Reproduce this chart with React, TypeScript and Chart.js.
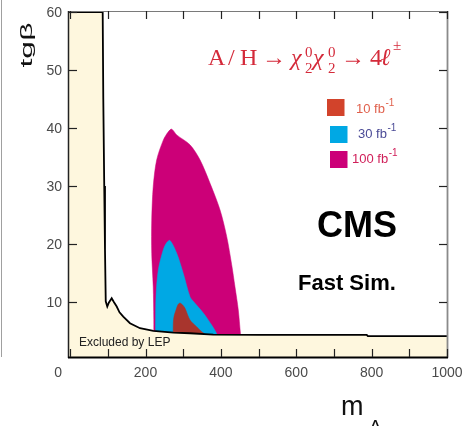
import React, { useEffect, useRef } from 'react';
import { Chart, registerables } from 'chart.js';

Chart.register(...registerables);

// ---- Data (m_A in GeV, tan beta) ----
// LEP excluded region boundary
const lepMass = [-3, 86.4, 88, 90.5, 92.5, 94.5, 98.6, 103, 110.3, 116, 123.6, 131, 141, 158.8, 185.4, 220.7, 273.7, 318, 380, 500, 787, 790, 1000];
const lepTanb = [60, 60, 45, 30, 19, 10.1, 9.2, 9.9, 10.64, 10.0, 9.2, 8.2, 7.46, 6.33, 5.47, 5.0, 4.71, 4.6, 4.36, 4.31, 4.31, 4.09, 4.09];

// 5 sigma discovery contour, 100 fb^-1
const mass100 = [222, 222, 220.5, 216.5, 216.5, 220.5, 229.7, 247.2, 260, 269.5, 282.8, 318, 344.6, 371, 397.6, 415.4, 428.7, 437.4, 446.2, 452, 454, 222];
const tanb100 = [3.5, 7, 12.6, 18.4, 24.1, 29.9, 34.5, 37.9, 39.3, 39.8, 38.8, 37.1, 34.5, 30.5, 25.9, 21.3, 16.4, 12.6, 8.6, 4.5, 3.5, 3.5];

// 30 fb^-1
const mass30 = [226, 226.5, 227.8, 233.9, 247.2, 256, 265, 282.8, 300.3, 318, 326.8, 353.3, 375.6, 388.9, 392, 226];
const tanb30 = [3.5, 5.5, 10.9, 15.5, 19.0, 20.2, 20.6, 18.4, 14.9, 10.9, 10.1, 8.1, 6.0, 4.5, 3.5, 3.5];

// 10 fb^-1
const mass10 = [273.7, 273.7, 276, 280.9, 286, 291.5, 298, 304.8, 318, 335.8, 350, 358, 360, 273.7];
const tanb10 = [3.5, 6.3, 7.6, 8.6, 9.5, 9.8, 9.5, 8.9, 6.9, 5.7, 4.8, 4.4, 3.5, 3.5];

// Axes
const xTickValues = [0, 100, 200, 300, 400, 500, 600, 700, 800, 900, 1000];
const xLabelValues = [0, 200, 400, 600, 800, 1000];
const yTickValues = [10, 20, 30, 40, 50, 60];

// Legend
const legendNames = ['10 fb', '30 fb', '100 fb'];
const legendSup = '-1';

// Colours
const CREAM = '#fef7de';
const MAGENTA = '#cc0078';
const CYAN = '#00a8e4';
const DARKRED = '#a8352d';
const legendSquareColors = ['#d2432b', CYAN, MAGENTA];
const legendTextColors = ['#e0604c', '#4a4a96', '#d0205a'];
const TITLE_RED = '#d42a3a';

const toPts = (xs: number[], ys: number[]) => xs.map((x, i) => ({ x, y: ys[i] }));

const decorPlugin = {
  id: 'decor',
  afterDatasetsDraw(chart: any) {
    const { ctx, chartArea } = chart;
    const { left, right, top, bottom } = chartArea;
    const xs = chart.scales.x;
    const ys = chart.scales.y;
    const seg = (x1: number, y1: number, x2: number, y2: number) => {
      ctx.beginPath();
      ctx.moveTo(x1, y1);
      ctx.lineTo(x2, y2);
      ctx.stroke();
    };
    ctx.save();
    // frame
    ctx.strokeStyle = '#7a7a7a';
    ctx.lineWidth = 1;
    seg(left, top - 0.5, right, top - 0.5);
    ctx.strokeStyle = '#8a8a8a';
    ctx.lineWidth = 1.8;
    seg(right + 0.5, top - 1, right + 0.5, bottom + 1);
    ctx.strokeStyle = '#222';
    ctx.lineWidth = 1.5;
    seg(left - 0.5, top - 1, left - 0.5, bottom + 1);
    ctx.strokeStyle = '#000';
    ctx.lineWidth = 2;
    seg(left - 1, bottom + 0.5, right + 1, bottom + 0.5);

    // ticks (inward)
    ctx.strokeStyle = '#222';
    ctx.lineWidth = 1.2;
    const TL = 8;
    for (const v of xTickValues) {
      const px = Math.round(xs.getPixelForValue(v)) + 0.5;
      seg(px, bottom, px, bottom - TL);
      seg(px, top - 1, px, top - 1 + TL);
    }
    for (const v of yTickValues) {
      const py = Math.round(ys.getPixelForValue(v)) + 0.5;
      seg(left, py, left + TL, py);
      seg(right, py, right - TL, py);
    }

    // tick labels
    ctx.fillStyle = '#4a4a4a';
    ctx.font = '14px "Liberation Sans", Arial, sans-serif';
    ctx.textBaseline = 'alphabetic';
    ctx.textAlign = 'center';
    for (const v of xLabelValues) {
      let px = xs.getPixelForValue(v);
      if (v === 0) px -= 12;
      ctx.fillText(String(v), px, bottom + 19.5);
    }
    ctx.textAlign = 'right';
    for (const v of yTickValues) {
      const py = ys.getPixelForValue(v);
      ctx.fillText(String(v), left - 7, py + 5);
    }

    // Excluded by LEP
    ctx.textAlign = 'left';
    ctx.fillStyle = '#222';
    ctx.font = '12px "Liberation Sans", Arial, sans-serif';
    ctx.fillText('Excluded by LEP', left + 10, bottom - 11);

    // Title  A/H -> chi chi -> 4 l
    ctx.fillStyle = TITLE_RED;
    const serif = '"Liberation Serif", "Times New Roman", serif';
    ctx.font = `24px ${serif}`;
    ctx.fillText('A', 208, 65);
    ctx.fillText('/', 228, 65);
    ctx.fillText('H', 240, 65);
    ctx.fillText('\u2192', 262, 65);
    ctx.font = `italic 24px ${serif}`;
    ctx.fillText('\u03c7', 291, 65);
    ctx.fillText('\u03c7', 313, 65);
    ctx.font = `15px ${serif}`;
    ctx.fillText('2', 305, 73);
    ctx.fillText('0', 305, 57);
    ctx.fillText('2', 328, 73);
    ctx.fillText('0', 328, 57);
    ctx.font = `24px ${serif}`;
    ctx.fillText('\u2192', 341, 65);
    ctx.fillText('4', 370, 65);
    ctx.font = `bold italic 24px "DejaVu Serif", ${serif}`;
    ctx.fillText('\u2113', 381, 65);
    ctx.font = `15px ${serif}`;
    ctx.fillText('\u00b1', 393, 50);

    // Legend
    const sqX = [327, 330, 330];
    const sqY = [99, 126, 151];
    const txX = [356, 358, 352];
    const txY = [113, 138, 163];
    for (let i = 0; i < legendNames.length; i++) {
      ctx.fillStyle = legendSquareColors[i];
      ctx.fillRect(sqX[i], sqY[i], 17.5, 17);
      ctx.fillStyle = legendTextColors[i];
      ctx.font = '13px "Liberation Sans", Arial, sans-serif';
      ctx.fillText(legendNames[i], txX[i], txY[i]);
      const w = ctx.measureText(legendNames[i]).width;
      ctx.font = '10px "Liberation Sans", Arial, sans-serif';
      ctx.fillText(legendSup, txX[i] + w + 0.5, txY[i] - 7);
    }

    // CMS / Fast Sim.
    ctx.fillStyle = '#000';
    ctx.font = 'bold 36px "Liberation Sans", Arial, sans-serif';
    ctx.fillText('CMS', 317, 237);
    ctx.font = 'bold 22px "Liberation Sans", Arial, sans-serif';
    ctx.fillText('Fast Sim.', 298, 290);
    ctx.restore();
  },
  afterDraw(chart: any) {
    const { ctx } = chart;
    ctx.save();
    // thin grey line at far left (edge of original page)
    ctx.strokeStyle = '#a0a0a0';
    ctx.lineWidth = 1;
    ctx.beginPath();
    ctx.moveTo(1.5, 0);
    ctx.lineTo(1.5, 357);
    ctx.stroke();
    ctx.restore();

    // y-axis title tg beta: rotated -90 deg and stretched along the text
    ctx.save();
    ctx.font = '17px "Liberation Sans", Arial, sans-serif';
    const w = ctx.measureText('tg\u03b2').width || 24;
    const sx = 45 / w;
    ctx.setTransform(0, -sx, 1, 0, 27, 45);
    ctx.fillStyle = '#111';
    ctx.textAlign = 'center';
    ctx.textBaseline = 'middle';
    ctx.fillText('tg\u03b2', 0, 0);
    ctx.restore();

    // x-axis title m_A
    ctx.save();
    ctx.fillStyle = '#111';
    ctx.textAlign = 'left';
    ctx.textBaseline = 'alphabetic';
    ctx.font = '27px "Liberation Sans", Arial, sans-serif';
    ctx.fillText('m', 341, 415);
    ctx.font = '19px "Liberation Sans", Arial, sans-serif';
    ctx.fillText('A', 369, 432.5);
    ctx.restore();
  },
};

export default function App() {
  const ref = useRef<HTMLCanvasElement>(null);
  useEffect(() => {
    if (!ref.current) return;
    const chart = new Chart(ref.current, {
      type: 'line',
      data: {
        datasets: [
          {
            label: 'LEP',
            data: toPts(lepMass, lepTanb),
            borderColor: '#000',
            borderWidth: 1.8,
            backgroundColor: CREAM,
            fill: 'start',
            pointRadius: 0,
            tension: 0,
            order: 0,
          },
          {
            label: '10 fb-1',
            data: toPts(mass10, tanb10),
            borderColor: DARKRED,
            borderWidth: 0.5,
            backgroundColor: DARKRED,
            fill: 'shape',
            pointRadius: 0,
            tension: 0.3,
            order: 1,
          },
          {
            label: '30 fb-1',
            data: toPts(mass30, tanb30),
            borderColor: CYAN,
            borderWidth: 0.5,
            backgroundColor: CYAN,
            fill: 'shape',
            pointRadius: 0,
            tension: 0.3,
            order: 2,
          },
          {
            label: '100 fb-1',
            data: toPts(mass100, tanb100),
            borderColor: MAGENTA,
            borderWidth: 0.5,
            backgroundColor: MAGENTA,
            fill: 'shape',
            pointRadius: 0,
            tension: 0.3,
            order: 3,
          },
        ] as any,
      },
      options: {
        responsive: false,
        animation: false,
        devicePixelRatio: 1,
        events: [],
        layout: { padding: { top: 12, right: 20, left: 0, bottom: 0 } },
        plugins: {
          legend: { display: false },
          tooltip: { enabled: false },
        },
        scales: {
          x: {
            type: 'linear',
            min: -3,
            max: 1000,
            grid: { display: false },
            border: { display: false },
            ticks: { display: false },
            afterBuildTicks: (s: any) => {
              s.ticks = xTickValues.map((v) => ({ value: v }));
            },
            afterFit: (s: any) => {
              s.height = 69;
            },
          },
          y: {
            type: 'linear',
            min: 0.5,
            max: 60,
            grid: { display: false },
            border: { display: false },
            ticks: { display: false },
            afterBuildTicks: (s: any) => {
              s.ticks = yTickValues.map((v) => ({ value: v }));
            },
            afterFit: (s: any) => {
              s.width = 69;
            },
          },
        },
      } as any,
      plugins: [decorPlugin],
    });
    return () => chart.destroy();
  }, []);
  return (
    <div style={{ position: 'absolute', left: 0, top: 0, width: 467, height: 426, background: '#fff' }}>
      <canvas ref={ref} width={467} height={426} style={{ display: 'block', width: 467, height: 426 }} />
    </div>
  );
}
